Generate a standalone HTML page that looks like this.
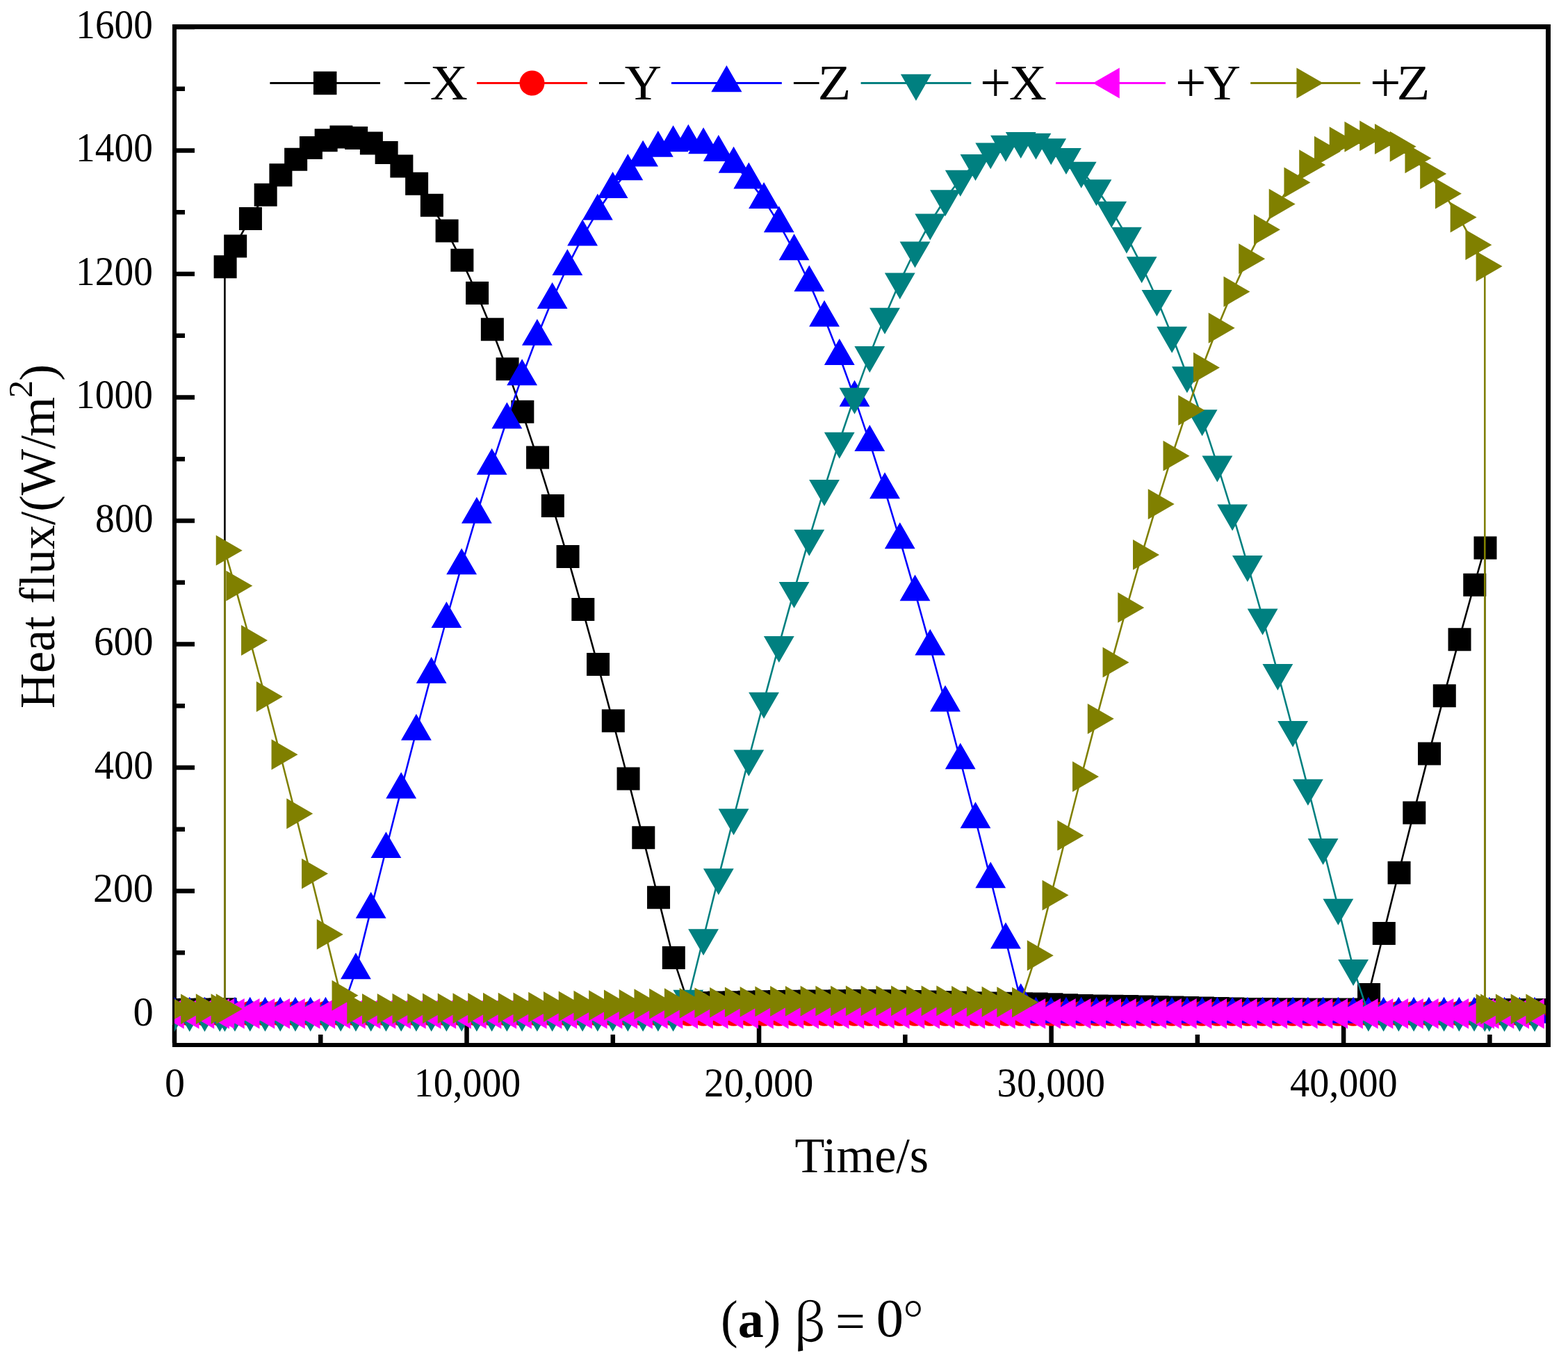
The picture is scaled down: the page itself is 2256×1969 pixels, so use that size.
<!DOCTYPE html><html><head><meta charset="utf-8"><title>Heat flux</title><style>html,body{margin:0;padding:0;background:#fff;overflow:hidden;width:2256px;height:1969px}svg{display:block}text{font-family:"Liberation Serif",serif}</style></head><body>
<svg width="2256" height="1969" viewBox="0 0 2256 1969">
<rect width="2256" height="1969" fill="#fff"/>
<defs><clipPath id="c"><rect x="251" y="38" width="1973" height="1465"/></clipPath></defs>
<path d="M248 35H2231V1506H248ZM254 42V1500H2224V42Z" fill="#000" fill-rule="evenodd"/>
<path d="M254 1459.10h26M254 1370.35h12M254 1281.60h26M254 1192.85h12M254 1104.10h26M254 1015.35h12M254 926.60h26M254 837.85h12M254 749.10h26M254 660.35h12M254 571.60h26M254 482.85h12M254 394.10h26M254 305.35h12M254 216.60h26M254 127.85h12M254 39.10h26M251.00 1500v-26M461.27 1500v-12M671.53 1500v-26M881.80 1500v-12M1092.06 1500v-26M1302.33 1500v-12M1512.60 1500v-26M1722.86 1500v-12M1933.13 1500v-26M2143.39 1500v-12" stroke="#000" stroke-width="6.5" fill="none"/>
<g clip-path="url(#c)">
<path d="M251.00 1452.44L272.75 1452.21L294.49 1451.98L316.24 1451.75L323.41 1451.67L323.41 383.66L337.98 354.11L359.73 314.46L381.47 280.31L403.22 251.84L424.96 229.18L446.71 212.45L468.45 201.71L490.20 197.03L511.94 198.43L533.68 205.90L555.43 219.40L577.17 238.88L598.92 264.23L620.66 295.33L642.41 332.02L664.15 374.14L685.90 421.48L707.64 473.80L729.39 530.84L751.13 592.35L772.88 658.00L794.62 727.48L816.37 800.46L838.12 876.58L859.86 955.47L881.61 1036.73L903.35 1119.99L925.10 1204.83L946.84 1290.83L968.59 1377.59L990.33 1443.12L1012.08 1442.41L1033.82 1442.02L1055.57 1441.63L1077.31 1441.24L1099.06 1440.85L1120.80 1440.46L1142.55 1440.28L1164.29 1440.11L1186.04 1439.93L1207.78 1439.75L1229.53 1439.57L1251.27 1439.40L1273.02 1439.77L1294.76 1440.15L1316.51 1440.53L1338.25 1440.91L1360.00 1441.50L1381.74 1442.09L1403.49 1442.68L1425.23 1443.01L1446.98 1443.35L1468.72 1443.68L1490.47 1444.01L1512.21 1444.87L1533.96 1445.73L1555.70 1446.59L1577.45 1446.91L1599.19 1447.24L1620.94 1447.56L1642.68 1448.01L1664.42 1448.45L1686.17 1448.98L1707.91 1449.51L1729.66 1450.00L1751.40 1450.49L1773.15 1450.98L1794.89 1451.47L1816.64 1451.60L1838.38 1451.73L1860.13 1451.87L1881.88 1452.00L1903.62 1452.00L1925.37 1452.00L1947.11 1452.00L1968.86 1430.43L1990.60 1342.58L2012.35 1255.26L2034.09 1168.89L2055.84 1083.89L2077.58 1000.68L2099.32 919.66L2121.07 841.23L2136.29 788.07L2136.29 1452.44L2142.82 1452.44L2164.56 1452.44L2186.31 1452.44L2208.05 1452.44" fill="none" stroke="#000000" stroke-width="2.6" stroke-linejoin="round"/>
<path d="M235.20 1435.94h33v33h-33zM256.94 1435.71h33v33h-33zM278.69 1435.48h33v33h-33zM300.44 1435.25h33v33h-33zM307.61 1435.17h33v33h-33zM307.61 367.16h33v33h-33zM322.18 337.61h33v33h-33zM343.93 297.96h33v33h-33zM365.67 263.81h33v33h-33zM387.42 235.34h33v33h-33zM409.16 212.68h33v33h-33zM430.91 195.95h33v33h-33zM452.65 185.21h33v33h-33zM474.40 180.53h33v33h-33zM496.14 181.93h33v33h-33zM517.88 189.40h33v33h-33zM539.63 202.90h33v33h-33zM561.38 222.38h33v33h-33zM583.12 247.73h33v33h-33zM604.87 278.83h33v33h-33zM626.61 315.52h33v33h-33zM648.36 357.64h33v33h-33zM670.10 404.98h33v33h-33zM691.85 457.30h33v33h-33zM713.59 514.34h33v33h-33zM735.34 575.85h33v33h-33zM757.08 641.50h33v33h-33zM778.83 710.98h33v33h-33zM800.57 783.96h33v33h-33zM822.32 860.08h33v33h-33zM844.06 938.97h33v33h-33zM865.81 1020.23h33v33h-33zM887.55 1103.49h33v33h-33zM909.30 1188.33h33v33h-33zM931.04 1274.33h33v33h-33zM952.79 1361.09h33v33h-33zM974.53 1426.62h33v33h-33zM996.28 1425.91h33v33h-33zM1018.02 1425.52h33v33h-33zM1039.77 1425.13h33v33h-33zM1061.51 1424.74h33v33h-33zM1083.26 1424.35h33v33h-33zM1105.00 1423.96h33v33h-33zM1126.75 1423.78h33v33h-33zM1148.49 1423.61h33v33h-33zM1170.24 1423.43h33v33h-33zM1191.98 1423.25h33v33h-33zM1213.73 1423.07h33v33h-33zM1235.47 1422.90h33v33h-33zM1257.22 1423.27h33v33h-33zM1278.96 1423.65h33v33h-33zM1300.71 1424.03h33v33h-33zM1322.45 1424.41h33v33h-33zM1344.20 1425.00h33v33h-33zM1365.94 1425.59h33v33h-33zM1387.69 1426.18h33v33h-33zM1409.43 1426.51h33v33h-33zM1431.18 1426.85h33v33h-33zM1452.92 1427.18h33v33h-33zM1474.67 1427.51h33v33h-33zM1496.41 1428.37h33v33h-33zM1518.16 1429.23h33v33h-33zM1539.90 1430.09h33v33h-33zM1561.65 1430.41h33v33h-33zM1583.39 1430.74h33v33h-33zM1605.14 1431.06h33v33h-33zM1626.88 1431.51h33v33h-33zM1648.62 1431.95h33v33h-33zM1670.37 1432.48h33v33h-33zM1692.12 1433.01h33v33h-33zM1713.86 1433.50h33v33h-33zM1735.61 1433.99h33v33h-33zM1757.35 1434.48h33v33h-33zM1779.10 1434.97h33v33h-33zM1800.84 1435.10h33v33h-33zM1822.59 1435.23h33v33h-33zM1844.33 1435.37h33v33h-33zM1866.08 1435.50h33v33h-33zM1887.82 1435.50h33v33h-33zM1909.57 1435.50h33v33h-33zM1931.31 1435.50h33v33h-33zM1953.06 1413.93h33v33h-33zM1974.80 1326.08h33v33h-33zM1996.55 1238.76h33v33h-33zM2018.29 1152.39h33v33h-33zM2040.03 1067.39h33v33h-33zM2061.78 984.18h33v33h-33zM2083.52 903.16h33v33h-33zM2105.27 824.73h33v33h-33zM2120.49 771.57h33v33h-33zM2120.49 1435.94h33v33h-33zM2127.01 1435.94h33v33h-33zM2148.76 1435.94h33v33h-33zM2170.51 1435.94h33v33h-33zM2192.25 1435.94h33v33h-33z" fill="#000000"/>
<path d="M251.00 1457.77L272.75 1457.77L294.49 1457.77L316.24 1457.77L323.41 1457.77L323.41 1457.77L337.98 1457.77L359.73 1457.77L381.47 1457.77L403.22 1457.77L424.96 1457.77L446.71 1457.77L468.45 1457.77L490.20 1457.77L511.94 1457.77L533.68 1457.77L555.43 1457.77L577.17 1457.77L598.92 1457.77L620.66 1457.77L642.41 1457.77L664.15 1457.77L685.90 1457.77L707.64 1457.77L729.39 1457.77L751.13 1457.77L772.88 1457.77L794.62 1457.77L816.37 1457.77L838.12 1457.77L859.86 1457.77L881.61 1457.77L903.35 1457.77L925.10 1457.77L946.84 1457.77L968.59 1457.77L990.33 1457.77L1012.08 1457.77L1033.82 1457.77L1055.57 1457.77L1077.31 1457.77L1099.06 1457.77L1120.80 1457.77L1142.55 1457.77L1164.29 1457.77L1186.04 1457.77L1207.78 1457.77L1229.53 1457.77L1251.27 1457.77L1273.02 1457.77L1294.76 1457.77L1316.51 1457.77L1338.25 1457.77L1360.00 1457.77L1381.74 1457.77L1403.49 1457.77L1425.23 1457.77L1446.98 1457.77L1468.72 1457.77L1490.47 1457.77L1512.21 1457.77L1533.96 1457.77L1555.70 1457.77L1577.45 1457.77L1599.19 1457.77L1620.94 1457.77L1642.68 1457.77L1664.42 1457.77L1686.17 1457.77L1707.91 1457.77L1729.66 1457.77L1751.40 1457.77L1773.15 1457.77L1794.89 1457.77L1816.64 1457.77L1838.38 1457.77L1860.13 1457.77L1881.88 1457.77L1903.62 1457.77L1925.37 1457.77L1947.11 1457.77L1968.86 1457.77L1990.60 1457.77L2012.35 1457.77L2034.09 1457.77L2055.84 1457.77L2077.58 1457.77L2099.32 1457.77L2121.07 1457.77L2136.29 1457.77L2136.29 1457.77L2142.82 1457.77L2164.56 1457.77L2186.31 1457.77L2208.05 1457.77" fill="none" stroke="#ff0000" stroke-width="2.6" stroke-linejoin="round"/>
<path d="M233.00 1457.77a18 18 0 1 0 36 0a18 18 0 1 0 -36 0zM254.75 1457.77a18 18 0 1 0 36 0a18 18 0 1 0 -36 0zM276.49 1457.77a18 18 0 1 0 36 0a18 18 0 1 0 -36 0zM298.24 1457.77a18 18 0 1 0 36 0a18 18 0 1 0 -36 0zM305.41 1457.77a18 18 0 1 0 36 0a18 18 0 1 0 -36 0zM305.41 1457.77a18 18 0 1 0 36 0a18 18 0 1 0 -36 0zM319.98 1457.77a18 18 0 1 0 36 0a18 18 0 1 0 -36 0zM341.73 1457.77a18 18 0 1 0 36 0a18 18 0 1 0 -36 0zM363.47 1457.77a18 18 0 1 0 36 0a18 18 0 1 0 -36 0zM385.22 1457.77a18 18 0 1 0 36 0a18 18 0 1 0 -36 0zM406.96 1457.77a18 18 0 1 0 36 0a18 18 0 1 0 -36 0zM428.71 1457.77a18 18 0 1 0 36 0a18 18 0 1 0 -36 0zM450.45 1457.77a18 18 0 1 0 36 0a18 18 0 1 0 -36 0zM472.20 1457.77a18 18 0 1 0 36 0a18 18 0 1 0 -36 0zM493.94 1457.77a18 18 0 1 0 36 0a18 18 0 1 0 -36 0zM515.68 1457.77a18 18 0 1 0 36 0a18 18 0 1 0 -36 0zM537.43 1457.77a18 18 0 1 0 36 0a18 18 0 1 0 -36 0zM559.17 1457.77a18 18 0 1 0 36 0a18 18 0 1 0 -36 0zM580.92 1457.77a18 18 0 1 0 36 0a18 18 0 1 0 -36 0zM602.66 1457.77a18 18 0 1 0 36 0a18 18 0 1 0 -36 0zM624.41 1457.77a18 18 0 1 0 36 0a18 18 0 1 0 -36 0zM646.15 1457.77a18 18 0 1 0 36 0a18 18 0 1 0 -36 0zM667.90 1457.77a18 18 0 1 0 36 0a18 18 0 1 0 -36 0zM689.64 1457.77a18 18 0 1 0 36 0a18 18 0 1 0 -36 0zM711.39 1457.77a18 18 0 1 0 36 0a18 18 0 1 0 -36 0zM733.13 1457.77a18 18 0 1 0 36 0a18 18 0 1 0 -36 0zM754.88 1457.77a18 18 0 1 0 36 0a18 18 0 1 0 -36 0zM776.62 1457.77a18 18 0 1 0 36 0a18 18 0 1 0 -36 0zM798.37 1457.77a18 18 0 1 0 36 0a18 18 0 1 0 -36 0zM820.12 1457.77a18 18 0 1 0 36 0a18 18 0 1 0 -36 0zM841.86 1457.77a18 18 0 1 0 36 0a18 18 0 1 0 -36 0zM863.61 1457.77a18 18 0 1 0 36 0a18 18 0 1 0 -36 0zM885.35 1457.77a18 18 0 1 0 36 0a18 18 0 1 0 -36 0zM907.10 1457.77a18 18 0 1 0 36 0a18 18 0 1 0 -36 0zM928.84 1457.77a18 18 0 1 0 36 0a18 18 0 1 0 -36 0zM950.59 1457.77a18 18 0 1 0 36 0a18 18 0 1 0 -36 0zM972.33 1457.77a18 18 0 1 0 36 0a18 18 0 1 0 -36 0zM994.08 1457.77a18 18 0 1 0 36 0a18 18 0 1 0 -36 0zM1015.82 1457.77a18 18 0 1 0 36 0a18 18 0 1 0 -36 0zM1037.57 1457.77a18 18 0 1 0 36 0a18 18 0 1 0 -36 0zM1059.31 1457.77a18 18 0 1 0 36 0a18 18 0 1 0 -36 0zM1081.06 1457.77a18 18 0 1 0 36 0a18 18 0 1 0 -36 0zM1102.80 1457.77a18 18 0 1 0 36 0a18 18 0 1 0 -36 0zM1124.55 1457.77a18 18 0 1 0 36 0a18 18 0 1 0 -36 0zM1146.29 1457.77a18 18 0 1 0 36 0a18 18 0 1 0 -36 0zM1168.04 1457.77a18 18 0 1 0 36 0a18 18 0 1 0 -36 0zM1189.78 1457.77a18 18 0 1 0 36 0a18 18 0 1 0 -36 0zM1211.53 1457.77a18 18 0 1 0 36 0a18 18 0 1 0 -36 0zM1233.27 1457.77a18 18 0 1 0 36 0a18 18 0 1 0 -36 0zM1255.02 1457.77a18 18 0 1 0 36 0a18 18 0 1 0 -36 0zM1276.76 1457.77a18 18 0 1 0 36 0a18 18 0 1 0 -36 0zM1298.51 1457.77a18 18 0 1 0 36 0a18 18 0 1 0 -36 0zM1320.25 1457.77a18 18 0 1 0 36 0a18 18 0 1 0 -36 0zM1342.00 1457.77a18 18 0 1 0 36 0a18 18 0 1 0 -36 0zM1363.74 1457.77a18 18 0 1 0 36 0a18 18 0 1 0 -36 0zM1385.49 1457.77a18 18 0 1 0 36 0a18 18 0 1 0 -36 0zM1407.23 1457.77a18 18 0 1 0 36 0a18 18 0 1 0 -36 0zM1428.98 1457.77a18 18 0 1 0 36 0a18 18 0 1 0 -36 0zM1450.72 1457.77a18 18 0 1 0 36 0a18 18 0 1 0 -36 0zM1472.47 1457.77a18 18 0 1 0 36 0a18 18 0 1 0 -36 0zM1494.21 1457.77a18 18 0 1 0 36 0a18 18 0 1 0 -36 0zM1515.96 1457.77a18 18 0 1 0 36 0a18 18 0 1 0 -36 0zM1537.70 1457.77a18 18 0 1 0 36 0a18 18 0 1 0 -36 0zM1559.45 1457.77a18 18 0 1 0 36 0a18 18 0 1 0 -36 0zM1581.19 1457.77a18 18 0 1 0 36 0a18 18 0 1 0 -36 0zM1602.94 1457.77a18 18 0 1 0 36 0a18 18 0 1 0 -36 0zM1624.68 1457.77a18 18 0 1 0 36 0a18 18 0 1 0 -36 0zM1646.42 1457.77a18 18 0 1 0 36 0a18 18 0 1 0 -36 0zM1668.17 1457.77a18 18 0 1 0 36 0a18 18 0 1 0 -36 0zM1689.91 1457.77a18 18 0 1 0 36 0a18 18 0 1 0 -36 0zM1711.66 1457.77a18 18 0 1 0 36 0a18 18 0 1 0 -36 0zM1733.40 1457.77a18 18 0 1 0 36 0a18 18 0 1 0 -36 0zM1755.15 1457.77a18 18 0 1 0 36 0a18 18 0 1 0 -36 0zM1776.89 1457.77a18 18 0 1 0 36 0a18 18 0 1 0 -36 0zM1798.64 1457.77a18 18 0 1 0 36 0a18 18 0 1 0 -36 0zM1820.38 1457.77a18 18 0 1 0 36 0a18 18 0 1 0 -36 0zM1842.13 1457.77a18 18 0 1 0 36 0a18 18 0 1 0 -36 0zM1863.88 1457.77a18 18 0 1 0 36 0a18 18 0 1 0 -36 0zM1885.62 1457.77a18 18 0 1 0 36 0a18 18 0 1 0 -36 0zM1907.37 1457.77a18 18 0 1 0 36 0a18 18 0 1 0 -36 0zM1929.11 1457.77a18 18 0 1 0 36 0a18 18 0 1 0 -36 0zM1950.86 1457.77a18 18 0 1 0 36 0a18 18 0 1 0 -36 0zM1972.60 1457.77a18 18 0 1 0 36 0a18 18 0 1 0 -36 0zM1994.35 1457.77a18 18 0 1 0 36 0a18 18 0 1 0 -36 0zM2016.09 1457.77a18 18 0 1 0 36 0a18 18 0 1 0 -36 0zM2037.84 1457.77a18 18 0 1 0 36 0a18 18 0 1 0 -36 0zM2059.58 1457.77a18 18 0 1 0 36 0a18 18 0 1 0 -36 0zM2081.32 1457.77a18 18 0 1 0 36 0a18 18 0 1 0 -36 0zM2103.07 1457.77a18 18 0 1 0 36 0a18 18 0 1 0 -36 0zM2118.29 1457.77a18 18 0 1 0 36 0a18 18 0 1 0 -36 0zM2118.29 1457.77a18 18 0 1 0 36 0a18 18 0 1 0 -36 0zM2124.82 1457.77a18 18 0 1 0 36 0a18 18 0 1 0 -36 0zM2146.56 1457.77a18 18 0 1 0 36 0a18 18 0 1 0 -36 0zM2168.31 1457.77a18 18 0 1 0 36 0a18 18 0 1 0 -36 0zM2190.05 1457.77a18 18 0 1 0 36 0a18 18 0 1 0 -36 0z" fill="#ff0000"/>
<path d="M251.00 1459.10L272.75 1459.10L294.49 1459.10L316.24 1459.10L323.41 1459.10L323.41 1459.10L337.98 1459.10L359.73 1459.10L381.47 1459.10L403.22 1459.10L424.96 1459.10L446.71 1459.10L468.45 1459.10L490.20 1459.10L511.94 1395.59L533.68 1308.15L555.43 1221.45L577.17 1135.92L598.92 1051.98L620.66 970.03L642.41 890.47L664.15 813.70L685.90 740.08L707.64 669.98L729.39 603.73L751.13 541.67L772.88 484.08L794.62 431.25L816.37 383.44L838.12 340.89L859.86 303.79L881.61 272.34L903.35 246.67L925.10 226.93L946.84 213.19L968.59 205.54L990.33 204.01L1012.08 208.61L1033.82 219.30L1055.57 236.05L1077.31 258.77L1099.06 287.35L1120.80 321.65L1142.55 361.50L1164.29 406.71L1186.04 457.05L1207.78 512.29L1229.53 572.16L1251.27 636.36L1273.02 704.57L1294.76 776.48L1316.51 851.72L1338.25 929.93L1360.00 1010.73L1381.74 1093.72L1403.49 1178.51L1425.23 1264.68L1446.98 1351.80L1468.72 1439.46L1490.47 1459.10L1512.21 1459.10L1533.96 1459.10L1555.70 1459.10L1577.45 1459.10L1599.19 1459.10L1620.94 1459.10L1642.68 1459.10L1664.42 1459.10L1686.17 1459.10L1707.91 1459.10L1729.66 1459.10L1751.40 1459.10L1773.15 1459.10L1794.89 1459.10L1816.64 1459.10L1838.38 1459.10L1860.13 1459.10L1881.88 1459.10L1903.62 1459.10L1925.37 1459.10L1947.11 1459.10L1968.86 1459.10L1990.60 1459.10L2012.35 1459.10L2034.09 1459.10L2055.84 1459.10L2077.58 1459.10L2099.32 1459.10L2121.07 1459.10L2136.29 1459.10L2136.29 1459.10L2142.82 1459.10L2164.56 1459.10L2186.31 1459.10L2208.05 1459.10" fill="none" stroke="#0000ff" stroke-width="2.6" stroke-linejoin="round"/>
<path d="M251.00 1433.80L229.09 1471.75L272.91 1471.75zM272.75 1433.80L250.83 1471.75L294.66 1471.75zM294.49 1433.80L272.58 1471.75L316.40 1471.75zM316.24 1433.80L294.32 1471.75L338.15 1471.75zM323.41 1433.80L301.50 1471.75L345.32 1471.75zM323.41 1433.80L301.50 1471.75L345.32 1471.75zM337.98 1433.80L316.07 1471.75L359.89 1471.75zM359.73 1433.80L337.81 1471.75L381.64 1471.75zM381.47 1433.80L359.56 1471.75L403.38 1471.75zM403.22 1433.80L381.30 1471.75L425.13 1471.75zM424.96 1433.80L403.05 1471.75L446.87 1471.75zM446.71 1433.80L424.79 1471.75L468.62 1471.75zM468.45 1433.80L446.54 1471.75L490.36 1471.75zM490.20 1433.80L468.28 1471.75L512.11 1471.75zM511.94 1370.29L490.03 1408.24L533.85 1408.24zM533.68 1282.85L511.77 1320.80L555.60 1320.80zM555.43 1196.15L533.52 1234.10L577.34 1234.10zM577.17 1110.62L555.26 1148.57L599.09 1148.57zM598.92 1026.68L577.01 1064.63L620.83 1064.63zM620.66 944.73L598.75 982.68L642.58 982.68zM642.41 865.17L620.50 903.12L664.32 903.12zM664.15 788.40L642.24 826.35L686.07 826.35zM685.90 714.78L663.99 752.73L707.81 752.73zM707.64 644.68L685.73 682.63L729.56 682.63zM729.39 578.43L707.48 616.38L751.30 616.38zM751.13 516.37L729.22 554.32L773.05 554.32zM772.88 458.78L750.97 496.73L794.79 496.73zM794.62 405.95L772.71 443.90L816.54 443.90zM816.37 358.14L794.46 396.09L838.28 396.09zM838.12 315.59L816.20 353.54L860.03 353.54zM859.86 278.49L837.95 316.44L881.77 316.44zM881.61 247.04L859.69 284.99L903.52 284.99zM903.35 221.37L881.44 259.32L925.26 259.32zM925.10 201.63L903.18 239.58L947.01 239.58zM946.84 187.89L924.93 225.84L968.75 225.84zM968.59 180.24L946.67 218.19L990.50 218.19zM990.33 178.71L968.42 216.66L1012.24 216.66zM1012.08 183.31L990.16 221.26L1033.99 221.26zM1033.82 194.00L1011.91 231.95L1055.73 231.95zM1055.57 210.75L1033.65 248.70L1077.48 248.70zM1077.31 233.47L1055.40 271.42L1099.22 271.42zM1099.06 262.05L1077.14 300.00L1120.97 300.00zM1120.80 296.35L1098.89 334.30L1142.71 334.30zM1142.55 336.20L1120.63 374.15L1164.46 374.15zM1164.29 381.41L1142.38 419.36L1186.20 419.36zM1186.04 431.75L1164.12 469.70L1207.95 469.70zM1207.78 486.99L1185.87 524.94L1229.69 524.94zM1229.53 546.86L1207.61 584.81L1251.44 584.81zM1251.27 611.06L1229.36 649.01L1273.18 649.01zM1273.02 679.27L1251.10 717.22L1294.93 717.22zM1294.76 751.18L1272.85 789.13L1316.67 789.13zM1316.51 826.42L1294.59 864.37L1338.42 864.37zM1338.25 904.63L1316.34 942.58L1360.16 942.58zM1360.00 985.43L1338.08 1023.38L1381.91 1023.38zM1381.74 1068.42L1359.83 1106.37L1403.65 1106.37zM1403.49 1153.21L1381.57 1191.16L1425.40 1191.16zM1425.23 1239.38L1403.32 1277.33L1447.14 1277.33zM1446.98 1326.50L1425.06 1364.45L1468.89 1364.45zM1468.72 1414.16L1446.81 1452.11L1490.63 1452.11zM1490.47 1433.80L1468.55 1471.75L1512.38 1471.75zM1512.21 1433.80L1490.30 1471.75L1534.12 1471.75zM1533.96 1433.80L1512.04 1471.75L1555.87 1471.75zM1555.70 1433.80L1533.79 1471.75L1577.61 1471.75zM1577.45 1433.80L1555.53 1471.75L1599.36 1471.75zM1599.19 1433.80L1577.28 1471.75L1621.10 1471.75zM1620.94 1433.80L1599.02 1471.75L1642.85 1471.75zM1642.68 1433.80L1620.77 1471.75L1664.59 1471.75zM1664.42 1433.80L1642.51 1471.75L1686.34 1471.75zM1686.17 1433.80L1664.26 1471.75L1708.08 1471.75zM1707.91 1433.80L1686.00 1471.75L1729.83 1471.75zM1729.66 1433.80L1707.75 1471.75L1751.57 1471.75zM1751.40 1433.80L1729.49 1471.75L1773.32 1471.75zM1773.15 1433.80L1751.24 1471.75L1795.06 1471.75zM1794.89 1433.80L1772.98 1471.75L1816.81 1471.75zM1816.64 1433.80L1794.73 1471.75L1838.55 1471.75zM1838.38 1433.80L1816.47 1471.75L1860.30 1471.75zM1860.13 1433.80L1838.22 1471.75L1882.04 1471.75zM1881.88 1433.80L1859.96 1471.75L1903.79 1471.75zM1903.62 1433.80L1881.71 1471.75L1925.53 1471.75zM1925.37 1433.80L1903.45 1471.75L1947.28 1471.75zM1947.11 1433.80L1925.20 1471.75L1969.02 1471.75zM1968.86 1433.80L1946.94 1471.75L1990.77 1471.75zM1990.60 1433.80L1968.69 1471.75L2012.51 1471.75zM2012.35 1433.80L1990.43 1471.75L2034.26 1471.75zM2034.09 1433.80L2012.18 1471.75L2056.00 1471.75zM2055.84 1433.80L2033.92 1471.75L2077.75 1471.75zM2077.58 1433.80L2055.67 1471.75L2099.49 1471.75zM2099.32 1433.80L2077.41 1471.75L2121.24 1471.75zM2121.07 1433.80L2099.16 1471.75L2142.98 1471.75zM2136.29 1433.80L2114.38 1471.75L2158.20 1471.75zM2136.29 1433.80L2114.38 1471.75L2158.20 1471.75zM2142.82 1433.80L2120.90 1471.75L2164.73 1471.75zM2164.56 1433.80L2142.65 1471.75L2186.47 1471.75zM2186.31 1433.80L2164.39 1471.75L2208.22 1471.75zM2208.05 1433.80L2186.14 1471.75L2229.96 1471.75z" fill="#0000ff"/>
<path d="M251.00 1458.66L272.75 1458.66L294.49 1458.66L316.24 1458.66L323.41 1458.66L323.41 1458.39L337.98 1458.39L359.73 1458.39L381.47 1458.39L403.22 1458.39L424.96 1458.39L446.71 1458.39L468.45 1458.39L490.20 1458.39L511.94 1458.39L533.68 1458.39L555.43 1458.39L577.17 1458.39L598.92 1458.39L620.66 1458.39L642.41 1458.39L664.15 1458.39L685.90 1458.39L707.64 1458.39L729.39 1458.39L751.13 1458.39L772.88 1458.39L794.62 1458.39L816.37 1458.39L838.12 1458.39L859.86 1458.39L881.61 1458.39L903.35 1458.39L925.10 1458.39L946.84 1458.39L968.59 1458.39L990.33 1436.47L1012.08 1348.94L1033.82 1261.94L1055.57 1175.89L1077.31 1091.23L1099.06 1008.35L1120.80 927.66L1142.55 849.56L1164.29 774.43L1186.04 702.62L1207.78 634.50L1229.53 570.40L1251.27 510.62L1273.02 455.45L1294.76 405.18L1316.51 360.03L1338.25 320.24L1360.00 285.99L1381.74 257.45L1403.49 234.76L1425.23 218.04L1446.98 207.36L1468.72 202.77L1490.47 204.30L1512.21 211.94L1533.96 225.65L1555.70 245.37L1577.45 271.00L1599.19 302.41L1620.94 339.45L1642.68 381.95L1664.42 429.69L1686.17 482.44L1707.91 539.95L1729.66 601.93L1751.40 668.08L1773.15 738.09L1794.89 811.60L1816.64 888.26L1838.38 967.70L1860.13 1049.54L1881.88 1133.36L1903.62 1218.77L1925.37 1305.34L1947.11 1392.67L1968.86 1458.39L1990.60 1458.39L2012.35 1458.39L2034.09 1458.39L2055.84 1458.39L2077.58 1458.39L2099.32 1458.39L2121.07 1458.39L2136.29 1458.39L2136.29 1458.66L2142.82 1458.66L2164.56 1458.66L2186.31 1458.66L2208.05 1458.66" fill="none" stroke="#008080" stroke-width="2.6" stroke-linejoin="round"/>
<path d="M251.00 1483.96L272.91 1446.01L229.09 1446.01zM272.75 1483.96L294.66 1446.01L250.83 1446.01zM294.49 1483.96L316.40 1446.01L272.58 1446.01zM316.24 1483.96L338.15 1446.01L294.32 1446.01zM323.41 1483.96L345.32 1446.01L301.50 1446.01zM323.41 1483.69L345.32 1445.74L301.50 1445.74zM337.98 1483.69L359.89 1445.74L316.07 1445.74zM359.73 1483.69L381.64 1445.74L337.81 1445.74zM381.47 1483.69L403.38 1445.74L359.56 1445.74zM403.22 1483.69L425.13 1445.74L381.30 1445.74zM424.96 1483.69L446.87 1445.74L403.05 1445.74zM446.71 1483.69L468.62 1445.74L424.79 1445.74zM468.45 1483.69L490.36 1445.74L446.54 1445.74zM490.20 1483.69L512.11 1445.74L468.28 1445.74zM511.94 1483.69L533.85 1445.74L490.03 1445.74zM533.68 1483.69L555.60 1445.74L511.77 1445.74zM555.43 1483.69L577.34 1445.74L533.52 1445.74zM577.17 1483.69L599.09 1445.74L555.26 1445.74zM598.92 1483.69L620.83 1445.74L577.01 1445.74zM620.66 1483.69L642.58 1445.74L598.75 1445.74zM642.41 1483.69L664.32 1445.74L620.50 1445.74zM664.15 1483.69L686.07 1445.74L642.24 1445.74zM685.90 1483.69L707.81 1445.74L663.99 1445.74zM707.64 1483.69L729.56 1445.74L685.73 1445.74zM729.39 1483.69L751.30 1445.74L707.48 1445.74zM751.13 1483.69L773.05 1445.74L729.22 1445.74zM772.88 1483.69L794.79 1445.74L750.97 1445.74zM794.62 1483.69L816.54 1445.74L772.71 1445.74zM816.37 1483.69L838.28 1445.74L794.46 1445.74zM838.12 1483.69L860.03 1445.74L816.20 1445.74zM859.86 1483.69L881.77 1445.74L837.95 1445.74zM881.61 1483.69L903.52 1445.74L859.69 1445.74zM903.35 1483.69L925.26 1445.74L881.44 1445.74zM925.10 1483.69L947.01 1445.74L903.18 1445.74zM946.84 1483.69L968.75 1445.74L924.93 1445.74zM968.59 1483.69L990.50 1445.74L946.67 1445.74zM990.33 1461.77L1012.24 1423.82L968.42 1423.82zM1012.08 1374.24L1033.99 1336.29L990.16 1336.29zM1033.82 1287.24L1055.73 1249.29L1011.91 1249.29zM1055.57 1201.19L1077.48 1163.24L1033.65 1163.24zM1077.31 1116.53L1099.22 1078.58L1055.40 1078.58zM1099.06 1033.65L1120.97 995.70L1077.14 995.70zM1120.80 952.96L1142.71 915.01L1098.89 915.01zM1142.55 874.86L1164.46 836.91L1120.63 836.91zM1164.29 799.73L1186.20 761.78L1142.38 761.78zM1186.04 727.92L1207.95 689.97L1164.12 689.97zM1207.78 659.80L1229.69 621.85L1185.87 621.85zM1229.53 595.70L1251.44 557.75L1207.61 557.75zM1251.27 535.92L1273.18 497.97L1229.36 497.97zM1273.02 480.75L1294.93 442.80L1251.10 442.80zM1294.76 430.48L1316.67 392.53L1272.85 392.53zM1316.51 385.33L1338.42 347.38L1294.59 347.38zM1338.25 345.54L1360.16 307.59L1316.34 307.59zM1360.00 311.29L1381.91 273.34L1338.08 273.34zM1381.74 282.75L1403.65 244.80L1359.83 244.80zM1403.49 260.06L1425.40 222.11L1381.57 222.11zM1425.23 243.34L1447.14 205.39L1403.32 205.39zM1446.98 232.66L1468.89 194.71L1425.06 194.71zM1468.72 228.07L1490.63 190.12L1446.81 190.12zM1490.47 229.60L1512.38 191.65L1468.55 191.65zM1512.21 237.24L1534.12 199.29L1490.30 199.29zM1533.96 250.95L1555.87 213.00L1512.04 213.00zM1555.70 270.67L1577.61 232.72L1533.79 232.72zM1577.45 296.30L1599.36 258.35L1555.53 258.35zM1599.19 327.71L1621.10 289.76L1577.28 289.76zM1620.94 364.75L1642.85 326.80L1599.02 326.80zM1642.68 407.25L1664.59 369.30L1620.77 369.30zM1664.42 454.99L1686.34 417.04L1642.51 417.04zM1686.17 507.74L1708.08 469.79L1664.26 469.79zM1707.91 565.25L1729.83 527.30L1686.00 527.30zM1729.66 627.23L1751.57 589.28L1707.75 589.28zM1751.40 693.38L1773.32 655.43L1729.49 655.43zM1773.15 763.39L1795.06 725.44L1751.24 725.44zM1794.89 836.90L1816.81 798.95L1772.98 798.95zM1816.64 913.56L1838.55 875.61L1794.73 875.61zM1838.38 993.00L1860.30 955.05L1816.47 955.05zM1860.13 1074.84L1882.04 1036.89L1838.22 1036.89zM1881.88 1158.66L1903.79 1120.71L1859.96 1120.71zM1903.62 1244.07L1925.53 1206.12L1881.71 1206.12zM1925.37 1330.64L1947.28 1292.69L1903.45 1292.69zM1947.11 1417.97L1969.02 1380.02L1925.20 1380.02zM1968.86 1483.69L1990.77 1445.74L1946.94 1445.74zM1990.60 1483.69L2012.51 1445.74L1968.69 1445.74zM2012.35 1483.69L2034.26 1445.74L1990.43 1445.74zM2034.09 1483.69L2056.00 1445.74L2012.18 1445.74zM2055.84 1483.69L2077.75 1445.74L2033.92 1445.74zM2077.58 1483.69L2099.49 1445.74L2055.67 1445.74zM2099.32 1483.69L2121.24 1445.74L2077.41 1445.74zM2121.07 1483.69L2142.98 1445.74L2099.16 1445.74zM2136.29 1483.69L2158.20 1445.74L2114.38 1445.74zM2136.29 1483.96L2158.20 1446.01L2114.38 1446.01zM2142.82 1483.96L2164.73 1446.01L2120.90 1446.01zM2164.56 1483.96L2186.47 1446.01L2142.65 1446.01zM2186.31 1483.96L2208.22 1446.01L2164.39 1446.01zM2208.05 1483.96L2229.96 1446.01L2186.14 1446.01z" fill="#008080"/>
<path d="M251.00 1457.86L272.75 1457.86L294.49 1457.86L316.24 1457.86L323.41 1457.86L323.41 1457.86L337.98 1457.86L359.73 1457.86L381.47 1457.86L403.22 1457.86L424.96 1457.86L446.71 1457.86L468.45 1457.86L490.20 1457.86L511.94 1457.86L533.68 1457.86L555.43 1457.86L577.17 1457.86L598.92 1457.86L620.66 1457.86L642.41 1457.86L664.15 1457.86L685.90 1457.86L707.64 1457.86L729.39 1457.86L751.13 1457.86L772.88 1457.86L794.62 1457.86L816.37 1457.86L838.12 1457.86L859.86 1457.86L881.61 1457.86L903.35 1457.86L925.10 1457.86L946.84 1457.86L968.59 1457.86L990.33 1457.86L1012.08 1457.86L1033.82 1457.86L1055.57 1457.86L1077.31 1457.86L1099.06 1457.86L1120.80 1457.86L1142.55 1457.86L1164.29 1457.86L1186.04 1457.86L1207.78 1457.86L1229.53 1457.86L1251.27 1457.86L1273.02 1457.86L1294.76 1457.86L1316.51 1457.86L1338.25 1457.86L1360.00 1457.86L1381.74 1457.86L1403.49 1457.86L1425.23 1457.86L1446.98 1457.86L1468.72 1457.86L1490.47 1457.86L1512.21 1457.86L1533.96 1457.86L1555.70 1457.86L1577.45 1457.86L1599.19 1457.86L1620.94 1457.86L1642.68 1457.86L1664.42 1457.86L1686.17 1457.86L1707.91 1457.86L1729.66 1457.86L1751.40 1457.86L1773.15 1457.86L1794.89 1457.86L1816.64 1457.86L1838.38 1457.86L1860.13 1457.86L1881.88 1457.86L1903.62 1457.86L1925.37 1457.86L1947.11 1457.86L1968.86 1457.86L1990.60 1457.86L2012.35 1457.86L2034.09 1457.86L2055.84 1457.86L2077.58 1457.86L2099.32 1457.86L2121.07 1457.86L2136.29 1457.86L2136.29 1457.86L2142.82 1457.86L2164.56 1457.86L2186.31 1457.86L2208.05 1457.86" fill="none" stroke="#ff00ff" stroke-width="2.6" stroke-linejoin="round"/>
<path d="M226.80 1457.86L264.75 1479.77L264.75 1435.95zM248.55 1457.86L286.50 1479.77L286.50 1435.95zM270.29 1457.86L308.24 1479.77L308.24 1435.95zM292.04 1457.86L329.99 1479.77L329.99 1435.95zM299.21 1457.86L337.16 1479.77L337.16 1435.95zM299.21 1457.86L337.16 1479.77L337.16 1435.95zM313.78 1457.86L351.73 1479.77L351.73 1435.95zM335.53 1457.86L373.48 1479.77L373.48 1435.95zM357.27 1457.86L395.22 1479.77L395.22 1435.95zM379.02 1457.86L416.97 1479.77L416.97 1435.95zM400.76 1457.86L438.71 1479.77L438.71 1435.95zM422.51 1457.86L460.46 1479.77L460.46 1435.95zM444.25 1457.86L482.20 1479.77L482.20 1435.95zM466.00 1457.86L503.95 1479.77L503.95 1435.95zM487.74 1457.86L525.69 1479.77L525.69 1435.95zM509.48 1457.86L547.43 1479.77L547.43 1435.95zM531.23 1457.86L569.18 1479.77L569.18 1435.95zM552.98 1457.86L590.92 1479.77L590.92 1435.95zM574.72 1457.86L612.67 1479.77L612.67 1435.95zM596.47 1457.86L634.41 1479.77L634.41 1435.95zM618.21 1457.86L656.16 1479.77L656.16 1435.95zM639.96 1457.86L677.90 1479.77L677.90 1435.95zM661.70 1457.86L699.65 1479.77L699.65 1435.95zM683.45 1457.86L721.39 1479.77L721.39 1435.95zM705.19 1457.86L743.14 1479.77L743.14 1435.95zM726.94 1457.86L764.88 1479.77L764.88 1435.95zM748.68 1457.86L786.63 1479.77L786.63 1435.95zM770.43 1457.86L808.38 1479.77L808.38 1435.95zM792.17 1457.86L830.12 1479.77L830.12 1435.95zM813.92 1457.86L851.87 1479.77L851.87 1435.95zM835.66 1457.86L873.61 1479.77L873.61 1435.95zM857.41 1457.86L895.36 1479.77L895.36 1435.95zM879.15 1457.86L917.10 1479.77L917.10 1435.95zM900.90 1457.86L938.85 1479.77L938.85 1435.95zM922.64 1457.86L960.59 1479.77L960.59 1435.95zM944.39 1457.86L982.34 1479.77L982.34 1435.95zM966.13 1457.86L1004.08 1479.77L1004.08 1435.95zM987.88 1457.86L1025.83 1479.77L1025.83 1435.95zM1009.62 1457.86L1047.57 1479.77L1047.57 1435.95zM1031.37 1457.86L1069.32 1479.77L1069.32 1435.95zM1053.11 1457.86L1091.06 1479.77L1091.06 1435.95zM1074.86 1457.86L1112.81 1479.77L1112.81 1435.95zM1096.60 1457.86L1134.55 1479.77L1134.55 1435.95zM1118.35 1457.86L1156.30 1479.77L1156.30 1435.95zM1140.09 1457.86L1178.04 1479.77L1178.04 1435.95zM1161.84 1457.86L1199.79 1479.77L1199.79 1435.95zM1183.58 1457.86L1221.53 1479.77L1221.53 1435.95zM1205.33 1457.86L1243.28 1479.77L1243.28 1435.95zM1227.07 1457.86L1265.02 1479.77L1265.02 1435.95zM1248.82 1457.86L1286.77 1479.77L1286.77 1435.95zM1270.56 1457.86L1308.51 1479.77L1308.51 1435.95zM1292.31 1457.86L1330.26 1479.77L1330.26 1435.95zM1314.05 1457.86L1352.00 1479.77L1352.00 1435.95zM1335.80 1457.86L1373.75 1479.77L1373.75 1435.95zM1357.54 1457.86L1395.49 1479.77L1395.49 1435.95zM1379.29 1457.86L1417.24 1479.77L1417.24 1435.95zM1401.03 1457.86L1438.98 1479.77L1438.98 1435.95zM1422.78 1457.86L1460.73 1479.77L1460.73 1435.95zM1444.52 1457.86L1482.47 1479.77L1482.47 1435.95zM1466.27 1457.86L1504.22 1479.77L1504.22 1435.95zM1488.01 1457.86L1525.96 1479.77L1525.96 1435.95zM1509.76 1457.86L1547.71 1479.77L1547.71 1435.95zM1531.50 1457.86L1569.45 1479.77L1569.45 1435.95zM1553.25 1457.86L1591.20 1479.77L1591.20 1435.95zM1574.99 1457.86L1612.94 1479.77L1612.94 1435.95zM1596.74 1457.86L1634.69 1479.77L1634.69 1435.95zM1618.48 1457.86L1656.43 1479.77L1656.43 1435.95zM1640.22 1457.86L1678.17 1479.77L1678.17 1435.95zM1661.97 1457.86L1699.92 1479.77L1699.92 1435.95zM1683.71 1457.86L1721.66 1479.77L1721.66 1435.95zM1705.46 1457.86L1743.41 1479.77L1743.41 1435.95zM1727.20 1457.86L1765.15 1479.77L1765.15 1435.95zM1748.95 1457.86L1786.90 1479.77L1786.90 1435.95zM1770.69 1457.86L1808.64 1479.77L1808.64 1435.95zM1792.44 1457.86L1830.39 1479.77L1830.39 1435.95zM1814.18 1457.86L1852.13 1479.77L1852.13 1435.95zM1835.93 1457.86L1873.88 1479.77L1873.88 1435.95zM1857.67 1457.86L1895.62 1479.77L1895.62 1435.95zM1879.42 1457.86L1917.37 1479.77L1917.37 1435.95zM1901.16 1457.86L1939.12 1479.77L1939.12 1435.95zM1922.91 1457.86L1960.86 1479.77L1960.86 1435.95zM1944.65 1457.86L1982.61 1479.77L1982.61 1435.95zM1966.40 1457.86L2004.35 1479.77L2004.35 1435.95zM1988.14 1457.86L2026.10 1479.77L2026.10 1435.95zM2009.89 1457.86L2047.84 1479.77L2047.84 1435.95zM2031.63 1457.86L2069.59 1479.77L2069.59 1435.95zM2053.38 1457.86L2091.33 1479.77L2091.33 1435.95zM2075.12 1457.86L2113.07 1479.77L2113.07 1435.95zM2096.87 1457.86L2134.82 1479.77L2134.82 1435.95zM2112.09 1457.86L2150.04 1479.77L2150.04 1435.95zM2112.09 1457.86L2150.04 1479.77L2150.04 1435.95zM2118.61 1457.86L2156.57 1479.77L2156.57 1435.95zM2140.36 1457.86L2178.31 1479.77L2178.31 1435.95zM2162.11 1457.86L2200.06 1479.77L2200.06 1435.95zM2183.85 1457.86L2221.80 1479.77L2221.80 1435.95z" fill="#ff00ff"/>
<path d="M251.00 1451.38L272.75 1451.32L294.49 1451.25L316.24 1451.19L323.41 1451.17L323.41 791.65L337.98 842.56L359.73 920.99L381.47 1002.01L403.22 1085.22L424.96 1170.22L446.71 1256.59L468.45 1343.92L490.20 1431.76L511.94 1451.11L533.68 1450.96L555.43 1450.82L577.17 1450.67L598.92 1450.56L620.66 1450.45L642.41 1450.34L664.15 1450.22L685.90 1450.00L707.64 1449.78L729.39 1449.56L751.13 1449.34L772.88 1448.67L794.62 1448.01L816.37 1447.34L838.12 1446.67L859.86 1446.08L881.61 1445.48L903.35 1444.88L925.10 1444.28L946.84 1443.78L968.59 1443.28L990.33 1442.79L1012.08 1442.29L1033.82 1441.79L1055.57 1441.35L1077.31 1440.91L1099.06 1440.46L1120.80 1440.02L1142.55 1439.90L1164.29 1439.78L1186.04 1439.66L1207.78 1439.55L1229.53 1439.43L1251.27 1439.31L1273.02 1439.31L1294.76 1439.31L1316.51 1439.31L1338.25 1439.31L1360.00 1439.31L1381.74 1439.80L1403.49 1440.28L1425.23 1440.77L1446.98 1441.26L1468.72 1441.55L1490.47 1374.22L1512.21 1287.59L1533.96 1201.71L1555.70 1116.99L1577.45 1033.85L1599.19 952.70L1620.94 873.93L1642.68 797.92L1664.42 725.04L1686.17 655.66L1707.91 590.10L1729.66 528.68L1751.40 471.72L1773.15 419.47L1794.89 372.20L1816.64 330.15L1838.38 293.50L1860.13 262.44L1881.88 237.13L1903.62 217.69L1925.37 204.20L1947.11 196.74L1968.86 195.34L1990.60 200.02L2012.35 210.74L2034.09 227.45L2055.84 250.08L2077.58 278.51L2099.32 312.60L2121.07 352.20L2136.29 383.08L2136.29 1451.38L2142.82 1451.38L2164.56 1451.38L2186.31 1451.38L2208.05 1451.38" fill="none" stroke="#808000" stroke-width="2.6" stroke-linejoin="round"/>
<path d="M276.30 1451.38L238.35 1429.47L238.35 1473.29zM298.05 1451.32L260.10 1429.41L260.09 1473.23zM319.79 1451.25L281.84 1429.34L281.84 1473.16zM341.54 1451.19L303.59 1429.28L303.58 1473.10zM348.71 1451.17L310.76 1429.26L310.76 1473.08zM348.71 791.65L310.76 769.74L310.76 813.56zM363.28 842.56L325.33 820.65L325.33 864.47zM385.03 920.99L347.08 899.08L347.07 942.90zM406.77 1002.01L368.82 980.10L368.82 1023.92zM428.52 1085.22L390.57 1063.31L390.56 1107.13zM450.26 1170.22L412.31 1148.31L412.31 1192.13zM472.01 1256.59L434.06 1234.68L434.06 1278.50zM493.75 1343.92L455.80 1322.00L455.80 1365.83zM515.50 1431.76L477.55 1409.85L477.55 1453.68zM537.24 1451.11L499.29 1429.20L499.29 1473.02zM558.98 1450.96L521.03 1429.05L521.03 1472.88zM580.73 1450.82L542.78 1428.91L542.78 1472.73zM602.47 1450.67L564.52 1428.76L564.52 1472.58zM624.22 1450.56L586.27 1428.65L586.27 1472.47zM645.96 1450.45L608.01 1428.54L608.01 1472.36zM667.71 1450.34L629.76 1428.43L629.76 1472.25zM689.45 1450.22L651.50 1428.31L651.50 1472.14zM711.20 1450.00L673.25 1428.09L673.25 1471.91zM732.94 1449.78L695.00 1427.87L695.00 1471.69zM754.69 1449.56L716.74 1427.65L716.74 1471.47zM776.43 1449.34L738.49 1427.43L738.49 1471.25zM798.18 1448.67L760.23 1426.76L760.23 1470.58zM819.92 1448.01L781.98 1426.10L781.98 1469.92zM841.67 1447.34L803.72 1425.43L803.72 1469.25zM863.41 1446.67L825.47 1424.76L825.47 1468.59zM885.16 1446.08L847.21 1424.17L847.21 1467.99zM906.90 1445.48L868.96 1423.57L868.96 1467.39zM928.65 1444.88L890.70 1422.97L890.70 1466.79zM950.39 1444.28L912.45 1422.37L912.45 1466.19zM972.14 1443.78L934.19 1421.87L934.19 1465.69zM993.88 1443.28L955.94 1421.37L955.94 1465.20zM1015.63 1442.79L977.68 1420.88L977.68 1464.70zM1037.38 1442.29L999.43 1420.38L999.43 1464.20zM1059.12 1441.79L1021.17 1419.88L1021.17 1463.70zM1080.87 1441.35L1042.91 1419.44L1042.91 1463.26zM1102.61 1440.91L1064.66 1419.00L1064.66 1462.82zM1124.36 1440.46L1086.40 1418.55L1086.40 1462.37zM1146.10 1440.02L1108.15 1418.11L1108.15 1461.93zM1167.85 1439.90L1129.89 1417.99L1129.89 1461.81zM1189.59 1439.78L1151.64 1417.87L1151.64 1461.69zM1211.34 1439.66L1173.38 1417.75L1173.38 1461.57zM1233.08 1439.55L1195.13 1417.63L1195.13 1461.46zM1254.83 1439.43L1216.88 1417.52L1216.88 1461.34zM1276.57 1439.31L1238.62 1417.40L1238.62 1461.22zM1298.32 1439.31L1260.37 1417.40L1260.37 1461.22zM1320.06 1439.31L1282.11 1417.40L1282.11 1461.22zM1341.81 1439.31L1303.86 1417.40L1303.86 1461.22zM1363.55 1439.31L1325.60 1417.40L1325.60 1461.22zM1385.30 1439.31L1347.35 1417.40L1347.35 1461.22zM1407.04 1439.80L1369.09 1417.89L1369.09 1461.71zM1428.79 1440.28L1390.84 1418.37L1390.84 1462.20zM1450.53 1440.77L1412.58 1418.86L1412.58 1462.68zM1472.28 1441.26L1434.33 1419.35L1434.33 1463.17zM1494.02 1441.55L1456.07 1419.63L1456.07 1463.46zM1515.77 1374.22L1477.82 1352.31L1477.82 1396.13zM1537.51 1287.59L1499.56 1265.68L1499.56 1309.50zM1559.26 1201.71L1521.31 1179.80L1521.31 1223.62zM1581.00 1116.99L1543.05 1095.08L1543.05 1138.90zM1602.75 1033.85L1564.80 1011.94L1564.80 1055.76zM1624.49 952.70L1586.54 930.79L1586.54 974.61zM1646.24 873.93L1608.29 852.02L1608.29 895.84zM1667.98 797.92L1630.03 776.01L1630.03 819.83zM1689.72 725.04L1651.77 703.13L1651.77 746.95zM1711.47 655.66L1673.52 633.75L1673.52 677.57zM1733.21 590.10L1695.26 568.19L1695.26 612.01zM1754.96 528.68L1717.01 506.77L1717.01 550.59zM1776.70 471.72L1738.75 449.81L1738.75 493.63zM1798.45 419.47L1760.50 397.56L1760.50 441.38zM1820.19 372.20L1782.24 350.29L1782.24 394.11zM1841.94 330.15L1803.99 308.23L1803.99 352.06zM1863.68 293.50L1825.73 271.59L1825.73 315.41zM1885.43 262.44L1847.48 240.53L1847.48 284.35zM1907.17 237.13L1869.22 215.22L1869.22 259.04zM1928.92 217.69L1890.97 195.77L1890.97 239.60zM1950.66 204.20L1912.71 182.29L1912.71 226.11zM1972.41 196.74L1934.46 174.83L1934.46 218.65zM1994.15 195.34L1956.20 173.43L1956.20 217.25zM2015.90 200.02L1977.95 178.11L1977.95 221.93zM2037.64 210.74L1999.69 188.83L1999.69 232.65zM2059.39 227.45L2021.44 205.54L2021.44 249.36zM2081.14 250.08L2043.18 228.17L2043.18 271.99zM2102.88 278.51L2064.93 256.60L2064.93 300.42zM2124.62 312.60L2086.67 290.69L2086.67 334.51zM2146.37 352.20L2108.42 330.29L2108.42 374.11zM2161.59 383.08L2123.64 361.17L2123.64 404.99zM2161.59 1451.38L2123.64 1429.47L2123.64 1473.29zM2168.12 1451.38L2130.16 1429.47L2130.16 1473.29zM2189.86 1451.38L2151.91 1429.47L2151.91 1473.29zM2211.61 1451.38L2173.66 1429.47L2173.66 1473.29zM2233.35 1451.38L2195.40 1429.47L2195.40 1473.29z" fill="#808000"/>
</g>
<path d="M388.4 119.5H547" stroke="#000000" stroke-width="3"/>
<path d="M450.95 102.75h33.5v33.5h-33.5z" fill="#000000"/>
<path d="M686 119.5H845" stroke="#ff0000" stroke-width="3"/>
<path d="M747.50 119.50a18 18 0 1 0 36 0a18 18 0 1 0 -36 0z" fill="#ff0000"/>
<path d="M966 119.5H1124.8" stroke="#0000ff" stroke-width="3"/>
<path d="M1045.40 94.00L1023.32 132.25L1067.48 132.25z" fill="#0000ff"/>
<path d="M1238.6 119.5H1397.3" stroke="#008080" stroke-width="3"/>
<path d="M1317.95 145.00L1340.03 106.75L1295.87 106.75z" fill="#008080"/>
<path d="M1519 119.5H1677" stroke="#ff00ff" stroke-width="3"/>
<path d="M1572.50 119.50L1610.75 141.58L1610.75 97.42z" fill="#ff00ff"/>
<path d="M1799.2 119.5H1957.2" stroke="#808000" stroke-width="3"/>
<path d="M1903.70 119.50L1865.45 97.42L1865.45 141.58z" fill="#808000"/>
<text><tspan x="109.32" y="54.90" font-size="59.00" textLength="110.56" lengthAdjust="spacingAndGlyphs" >1600</tspan></text>
<text><tspan x="109.11" y="232.40" font-size="59.00" textLength="110.77" lengthAdjust="spacingAndGlyphs" >1400</tspan></text>
<text><tspan x="109.11" y="409.90" font-size="59.00" textLength="110.77" lengthAdjust="spacingAndGlyphs" >1200</tspan></text>
<text><tspan x="109.11" y="587.40" font-size="59.00" textLength="110.77" lengthAdjust="spacingAndGlyphs" >1000</tspan></text>
<text><tspan x="137.12" y="764.90" font-size="59.00" textLength="83.34" lengthAdjust="spacingAndGlyphs" >800</tspan></text>
<text><tspan x="134.90" y="942.40" font-size="59.00" textLength="85.62" lengthAdjust="spacingAndGlyphs" >600</tspan></text>
<text><tspan x="135.74" y="1119.90" font-size="59.00" textLength="84.75" lengthAdjust="spacingAndGlyphs" >400</tspan></text>
<text><tspan x="134.07" y="1297.40" font-size="59.00" textLength="86.58" lengthAdjust="spacingAndGlyphs" >200</tspan></text>
<text><tspan x="191.42" y="1474.90" font-size="59.00" textLength="29.26" lengthAdjust="spacingAndGlyphs" >0</tspan></text>
<text><tspan x="237.03" y="1577.10" font-size="59.00" textLength="29.03" lengthAdjust="spacingAndGlyphs" >0</tspan></text>
<text><tspan x="595.77" y="1577.10" font-size="59.00" textLength="153.46" lengthAdjust="spacingAndGlyphs" >10,000</tspan></text>
<text><tspan x="1013.09" y="1577.10" font-size="59.00" textLength="157.19" lengthAdjust="spacingAndGlyphs" >20,000</tspan></text>
<text><tspan x="1434.62" y="1577.10" font-size="59.00" textLength="155.53" lengthAdjust="spacingAndGlyphs" >30,000</tspan></text>
<text><tspan x="1856.05" y="1577.10" font-size="59.00" textLength="154.60" lengthAdjust="spacingAndGlyphs" >40,000</tspan></text>
<text><tspan x="1143.62" y="1686.20" font-size="72.00" textLength="192.55" lengthAdjust="spacingAndGlyphs" >Time/s</tspan></text>
<text><tspan x="578.00" y="139.00" font-size="59.25" textLength="44.56" lengthAdjust="spacingAndGlyphs" >−</tspan><tspan x="618.77" y="143.00" font-size="71.83" textLength="54.13" lengthAdjust="spacingAndGlyphs" >X</tspan></text>
<text><tspan x="858.11" y="139.00" font-size="59.25" textLength="44.44" lengthAdjust="spacingAndGlyphs" >−</tspan><tspan x="898.75" y="143.00" font-size="71.83" textLength="53.21" lengthAdjust="spacingAndGlyphs" >Y</tspan></text>
<text><tspan x="1138.11" y="139.00" font-size="59.25" textLength="44.44" lengthAdjust="spacingAndGlyphs" >−</tspan><tspan x="1176.45" y="143.00" font-size="71.83" textLength="47.96" lengthAdjust="spacingAndGlyphs" >Z</tspan></text>
<text><tspan x="1410.00" y="146.10" font-size="80.98" textLength="44.56" lengthAdjust="spacingAndGlyphs" >+</tspan><tspan x="1451.87" y="143.00" font-size="71.83" textLength="54.13" lengthAdjust="spacingAndGlyphs" >X</tspan></text>
<text><tspan x="1691.00" y="146.10" font-size="80.98" textLength="44.56" lengthAdjust="spacingAndGlyphs" >+</tspan><tspan x="1731.96" y="143.00" font-size="71.83" textLength="53.00" lengthAdjust="spacingAndGlyphs" >Y</tspan></text>
<text><tspan x="1971.00" y="146.10" font-size="80.98" textLength="44.56" lengthAdjust="spacingAndGlyphs" >+</tspan><tspan x="2009.45" y="143.00" font-size="71.83" textLength="47.96" lengthAdjust="spacingAndGlyphs" >Z</tspan></text>
<text><tspan x="1037.08" y="1922.90" font-size="76.00" textLength="86.25" lengthAdjust="spacingAndGlyphs" >(<tspan font-weight="bold">a</tspan>)</tspan> <tspan x="1140.74" y="1929.05" font-size="73.70" textLength="46.98" lengthAdjust="spacingAndGlyphs" font-family="Noto Serif CJK SC, Liberation Serif, serif">β</tspan> <tspan x="1201.99" y="1926.00" font-size="76.00" textLength="43.00" lengthAdjust="spacingAndGlyphs" >=</tspan> <tspan x="1260.81" y="1921.97" font-size="78.38" textLength="39.19" lengthAdjust="spacingAndGlyphs" >0</tspan><tspan x="1299.74" y="1933.95" font-size="84.74" textLength="28.21" lengthAdjust="spacingAndGlyphs" font-family="Noto Serif CJK SC, Liberation Serif, serif">°</tspan></text>
<text transform="rotate(-90)"><tspan x="-1018.95" y="78.00" font-size="72.00" textLength="392.70" lengthAdjust="spacingAndGlyphs">Heat flux/(W/</tspan><tspan x="-628.14" y="78.00" font-size="72.00" textLength="57.18" lengthAdjust="spacingAndGlyphs">m</tspan><tspan x="-572.22" y="45.70" font-size="47.70" textLength="25.39" lengthAdjust="spacingAndGlyphs">2</tspan><tspan x="-547.69" y="78.00" font-size="72.00" textLength="23.86" lengthAdjust="spacingAndGlyphs">)</tspan></text>
</svg></body></html>
